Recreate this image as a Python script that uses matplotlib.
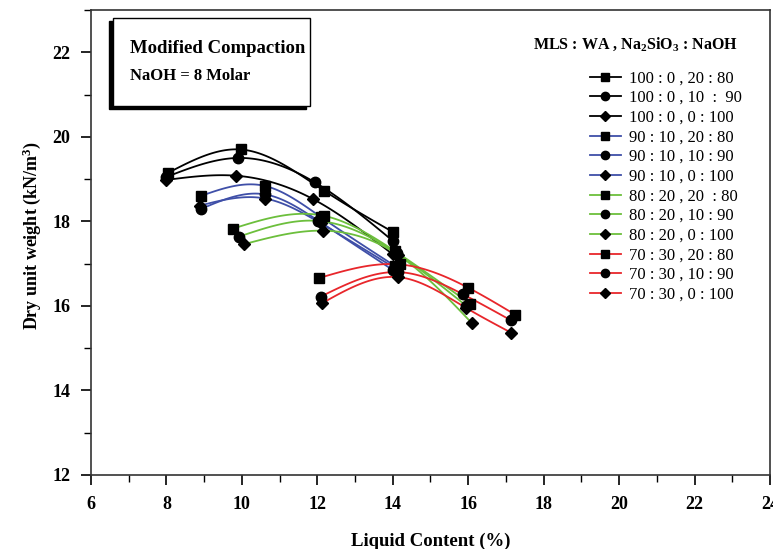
import numpy as np
import matplotlib
matplotlib.use("Agg")
import matplotlib.pyplot as plt
from matplotlib.patches import Rectangle
from matplotlib.ticker import MultipleLocator

plt.rcParams['font.family'] = 'serif'
plt.rcParams['font.serif'] = ['Liberation Serif', 'DejaVu Serif']
plt.rcParams['mathtext.fontset'] = 'custom'
plt.rcParams['mathtext.rm'] = 'Liberation Serif'
plt.rcParams['mathtext.bf'] = 'Liberation Serif:bold'

# liquid content (%) and dry unit weight (kN/m3)
labels = ["100 : 0 , 20 : 80", "100 : 0 , 10  :  90", "100 : 0 , 0 : 100",
          "90 : 10 , 20 : 80", "90 : 10 , 10 : 90", "90 : 10 , 0 : 100",
          "80 : 20 , 20  : 80", "80 : 20 , 10 : 90", "80 : 20 , 0 : 100",
          "70 : 30 , 20 : 80", "70 : 30 , 10 : 90", "70 : 30 , 0 : 100"]

wc_100_20 = [8.05, 9.97, 12.19, 14.0]
gd_100_20 = [19.15, 19.70, 18.72, 17.75]
wc_100_10 = [8.0, 9.9, 11.94, 14.0]
gd_100_10 = [19.05, 19.50, 18.92, 17.54]
wc_100_0 = [8.0, 9.84, 11.88, 14.0]
gd_100_0 = [18.98, 19.08, 18.53, 17.22]

wc_90_20 = [8.91, 10.6, 12.1, 14.05]
gd_90_20 = [18.60, 18.84, 18.10, 16.95]
wc_90_10 = [8.91, 10.6, 12.05, 14.0]
gd_90_10 = [18.29, 18.64, 18.00, 16.85]
wc_90_0 = [8.88, 10.62, 12.1, 14.05]
gd_90_0 = [18.37, 18.54, 17.95, 16.90]

wc_80_20 = [9.77, 12.18, 14.05, 16.05]
gd_80_20 = [17.83, 18.13, 17.30, 16.05]
wc_80_10 = [9.93, 12.03, 14.1, 15.95]
gd_80_10 = [17.64, 18.01, 17.25, 16.00]
wc_80_0 = [10.06, 12.14, 14.15, 16.1]
gd_80_0 = [17.46, 17.78, 17.20, 15.59]

wc_70_20 = [12.05, 14.2, 16.0, 17.25]
gd_70_20 = [16.66, 16.98, 16.43, 15.79]
wc_70_10 = [12.09, 14.13, 15.85, 17.13]
gd_70_10 = [16.22, 16.80, 16.28, 15.66]
wc_70_0 = [12.12, 14.15, 15.95, 17.13]
gd_70_0 = [16.06, 16.68, 15.95, 15.37]

wc = [wc_100_20, wc_100_10, wc_100_0, wc_90_20, wc_90_10, wc_90_0,
      wc_80_20, wc_80_10, wc_80_0, wc_70_20, wc_70_10, wc_70_0]
gd = [gd_100_20, gd_100_10, gd_100_0, gd_90_20, gd_90_10, gd_90_0,
      gd_80_20, gd_80_10, gd_80_0, gd_70_20, gd_70_10, gd_70_0]

colors = ['black'] * 3 + ['#3f4fa8'] * 3 + ['#6cbf3c'] * 3 + ['#e8262b'] * 3
markers = ['s', 'o', 'D'] * 4
msizes = [7, 7.5, 6.5] * 4


def natural_spline(x, y, n=120):
    # natural cubic spline through the points (drawing only)
    x = np.asarray(x, float)
    y = np.asarray(y, float)
    k = len(x)
    h = np.diff(x)
    A = np.zeros((k, k))
    b = np.zeros(k)
    A[0, 0] = A[-1, -1] = 1
    for i in range(1, k - 1):
        A[i, i - 1] = h[i - 1]
        A[i, i] = 2 * (h[i - 1] + h[i])
        A[i, i + 1] = h[i]
        b[i] = 6 * ((y[i + 1] - y[i]) / h[i] - (y[i] - y[i - 1]) / h[i - 1])
    M = np.linalg.solve(A, b)
    xs = np.linspace(x[0], x[-1], n)
    idx = np.clip(np.searchsorted(x, xs) - 1, 0, k - 2)
    x0, x1 = x[idx], x[idx + 1]
    hh = x1 - x0
    t0 = x1 - xs
    t1 = xs - x0
    ys = (M[idx] * t0 ** 3 + M[idx + 1] * t1 ** 3) / (6 * hh) \
        + (y[idx] / hh - M[idx] * hh / 6) * t0 + (y[idx + 1] / hh - M[idx + 1] * hh / 6) * t1
    return xs, ys


fig = plt.figure(figsize=(7.73, 5.49), dpi=100)
ax = fig.add_axes([0.1177, 0.1348, 0.8784, 0.847])

for i in range(len(labels)):
    xs, ys = natural_spline(wc[i], gd[i])
    ax.plot(xs, ys, color=colors[i], lw=1.3, zorder=2)
    ax.plot(wc[i], gd[i], ls='none', marker=markers[i], ms=msizes[i], color='black', zorder=3)

# legend handles: coloured line with black marker
handles = []
for i in range(len(labels)):
    h, = ax.plot([], [], color=colors[i], lw=1.3, marker=markers[i], ms=msizes[i] - 1.5,
                 mfc='black', mec='black')
    handles.append(h)
ax.legend(handles, labels, loc='upper left', bbox_to_anchor=(0.735, 0.870),
          frameon=False, fontsize=12, handlelength=1.85, handletextpad=0.5,
          labelspacing=0.22, borderpad=0, borderaxespad=0)

ax.text(0.651, 0.925, r'MLS : WA , Na$_\mathbf{2}$SiO$_\mathbf{3}$ : NaOH',
        transform=ax.transAxes, fontsize=11.5, fontweight='bold', va='center', ha='left')

# info box with shadow
ax.add_patch(Rectangle((0.027, 0.787), 0.29, 0.19, transform=ax.transAxes,
                       facecolor='black', edgecolor='black', zorder=4))
ax.add_patch(Rectangle((0.0324, 0.7935), 0.29, 0.19, transform=ax.transAxes,
                       facecolor='white', edgecolor='black', lw=1.0, zorder=5))
ax.text(0.057, 0.917, 'Modified Compaction', transform=ax.transAxes, fontsize=13.5,
        fontweight='bold', va='center', zorder=6)
ax.text(0.057, 0.858, 'NaOH = 8 Molar', transform=ax.transAxes, fontsize=12,
        fontweight='bold', va='center', zorder=6)

ax.set_xlim(6, 24)
ax.set_ylim(12, 23)
ax.set_xticks(np.arange(6, 25, 2))
ax.set_yticks(np.arange(12, 23, 2))
ax.xaxis.set_minor_locator(MultipleLocator(1))
ax.yaxis.set_minor_locator(MultipleLocator(1))
ax.tick_params(which='major', direction='out', length=7, width=1.2, labelsize=13, pad=8)
ax.tick_params(which='minor', direction='out', length=5, width=1.0)
for lab in ax.get_xticklabels() + ax.get_yticklabels():
    lab.set_fontweight('bold')
for s in ax.spines.values():
    s.set_linewidth(1.2)
    s.set_color('#333333')

ax.set_xlabel('Liquid Content (%)', fontsize=13.5, fontweight='bold')
ax.set_ylabel(r'Dry unit weight (kN/m$\mathbf{^{3}}$)', fontsize=13, fontweight='bold')
ax.xaxis.set_label_coords(0.5, -0.125)
ax.yaxis.set_label_coords(-0.07, 0.515)

fig.savefig('out.png', dpi=100)
